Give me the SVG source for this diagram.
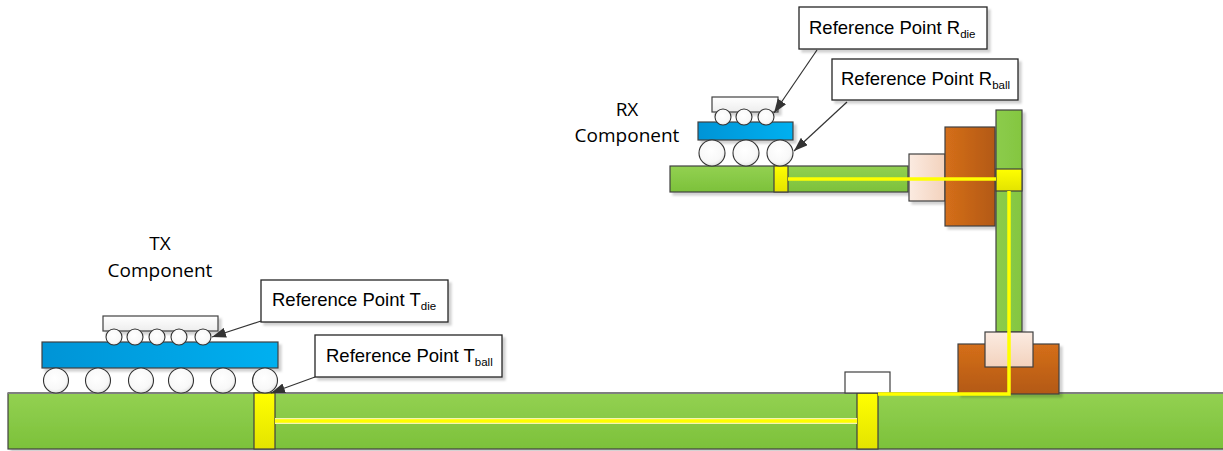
<svg xmlns="http://www.w3.org/2000/svg" width="1223" height="451" viewBox="0 0 1223 451">
  <defs>
    <linearGradient id="gGreen" x1="0" y1="0" x2="0" y2="1">
      <stop offset="0" stop-color="#93d152"/>
      <stop offset="1" stop-color="#7cc13a"/>
    </linearGradient>
    <linearGradient id="gGreenV" x1="0" y1="0" x2="1" y2="0">
      <stop offset="0" stop-color="#8ccc4c"/>
      <stop offset="1" stop-color="#84c640"/>
    </linearGradient>
    <linearGradient id="gBlue" x1="0" y1="0" x2="1" y2="0">
      <stop offset="0" stop-color="#0094d6"/>
      <stop offset="1" stop-color="#00b0f0"/>
    </linearGradient>
    <linearGradient id="gYellow" x1="0" y1="0" x2="0" y2="1">
      <stop offset="0" stop-color="#ffff00"/>
      <stop offset="1" stop-color="#e3e300"/>
    </linearGradient>
    <linearGradient id="gOrangeH" x1="0" y1="0" x2="1" y2="0">
      <stop offset="0" stop-color="#d56f1a"/>
      <stop offset="1" stop-color="#b35916"/>
    </linearGradient>
    <linearGradient id="gOrangeV" x1="0" y1="0" x2="0" y2="1">
      <stop offset="0" stop-color="#d56f1a"/>
      <stop offset="1" stop-color="#b35916"/>
    </linearGradient>
    <linearGradient id="gPinkH" x1="0" y1="0" x2="1" y2="0">
      <stop offset="0" stop-color="#fbebe1"/>
      <stop offset="1" stop-color="#f3d2bd"/>
    </linearGradient>
    <linearGradient id="gPinkV" x1="0" y1="0" x2="0" y2="1">
      <stop offset="0" stop-color="#fbebe1"/>
      <stop offset="1" stop-color="#f3d2bd"/>
    </linearGradient>
    <linearGradient id="gDie" x1="0" y1="0" x2="0" y2="1">
      <stop offset="0" stop-color="#ffffff"/>
      <stop offset="1" stop-color="#ededed"/>
    </linearGradient>
    <radialGradient id="gBall" cx="0.45" cy="0.4" r="0.65">
      <stop offset="0" stop-color="#ffffff"/>
      <stop offset="0.7" stop-color="#f8f8f8"/>
      <stop offset="1" stop-color="#dedede"/>
    </radialGradient>
    <filter id="shadow" x="-10%" y="-10%" width="130%" height="140%">
      <feDropShadow dx="3" dy="3" stdDeviation="1.2" flood-color="#000" flood-opacity="0.18"/>
    </filter>
    <marker id="arrow" viewBox="0 0 14 10" refX="14" refY="5" markerWidth="14" markerHeight="10" markerUnits="userSpaceOnUse" orient="auto">
      <path d="M0,0 L14,5 L0,10 Z" fill="#333333"/>
    </marker>
  </defs>
  <style>
    .edge { stroke: #404040; stroke-width: 1.2; }
    .board { fill: url(#gGreen); }
    .vboard { fill: url(#gGreenV); }
    .via { fill: url(#gYellow); }
    .subst { fill: url(#gBlue); }
    .die { fill: url(#gDie); }
    .ball { fill: url(#gBall); stroke: #333333; stroke-width: 1.1; }
    .trace { fill: none; stroke: #ffff00; stroke-width: 3.5; }
    .callout rect { fill: #ffffff; stroke: #262626; stroke-width: 1.3; }
    .callout text { font-family: "Liberation Sans", Arial, sans-serif; font-size: 18.5px; fill: #000; }
    .sub { font-size: 11.5px; }
    .label { font-family: "Open Sans", "Liberation Sans", sans-serif; font-size: 19px; fill: #000; text-anchor: middle; }
    .lead { fill: none; stroke: #333333; stroke-width: 1.2; marker-end: url(#arrow); }
  </style>

  <!-- main PCB with its two vias -->
  <g id="main-board">
    <rect x="8" y="393" width="1216" height="56" class="board edge" filter="url(#shadow)"/>
    <line x1="8" y1="393" x2="1223" y2="393" stroke="#7f7f7f" stroke-width="2"/>
    <rect x="254" y="393" width="21" height="56" class="via edge"/>
    <rect x="857" y="393" width="21" height="56" class="via edge"/>
  </g>

  <!-- small white part sitting on the board -->
  <g id="smd-part">
    <rect x="845" y="372" width="45" height="21" fill="#ffffff" class="edge"/>
  </g>

  <!-- TX package -->
  <g id="tx-component">
    <rect x="103" y="316" width="115" height="15" class="die edge" filter="url(#shadow)"/>
    <rect x="42" y="342" width="236" height="26" class="subst edge" filter="url(#shadow)"/>
    <circle cx="56" cy="380.5" r="12.5" class="ball"/>
    <circle cx="98" cy="380.5" r="12.5" class="ball"/>
    <circle cx="141" cy="380.5" r="12.5" class="ball"/>
    <circle cx="181" cy="380.5" r="12.5" class="ball"/>
    <circle cx="223" cy="380.5" r="12.5" class="ball"/>
    <circle cx="265" cy="380.5" r="12.5" class="ball"/>
    <circle cx="114" cy="337" r="8" class="ball"/>
    <circle cx="135" cy="337" r="8" class="ball"/>
    <circle cx="157" cy="337" r="8" class="ball"/>
    <circle cx="179" cy="337" r="8" class="ball"/>
    <circle cx="203" cy="337" r="8" class="ball"/>
    <text class="label" x="160" y="250">TX</text>
    <text class="label" x="160" y="277">Component</text>
  </g>

  <!-- RX board with via -->
  <g id="rx-board">
    <rect x="670" y="166" width="238" height="26" class="board edge" filter="url(#shadow)"/>
    <rect x="774" y="166" width="14" height="26" class="via edge"/>
  </g>

  <!-- RX package -->
  <g id="rx-component">
    <rect x="712" y="97" width="66" height="15" class="die edge" filter="url(#shadow)"/>
    <rect x="698" y="122" width="95" height="18" class="subst edge" filter="url(#shadow)"/>
    <circle cx="712" cy="153" r="13" class="ball"/>
    <circle cx="746" cy="153" r="13" class="ball"/>
    <circle cx="780" cy="153" r="13" class="ball"/>
    <circle cx="723" cy="117" r="8" class="ball"/>
    <circle cx="744" cy="117" r="8" class="ball"/>
    <circle cx="766" cy="117" r="8" class="ball"/>
    <text class="label" x="627" y="116">RX</text>
    <text class="label" x="627" y="142">Component</text>
  </g>

  <!-- upper connector between RX board and vertical card -->
  <g id="upper-connector">
    <rect x="909" y="154" width="36" height="47" fill="url(#gPinkH)" class="edge" filter="url(#shadow)"/>
    <rect x="945" y="127" width="50" height="99" fill="url(#gOrangeH)" class="edge" filter="url(#shadow)"/>
  </g>

  <!-- vertical card with via -->
  <g id="vertical-board">
    <rect x="996" y="110" width="26" height="222" class="vboard edge" filter="url(#shadow)"/>
    <rect x="996" y="169" width="26" height="22" class="via edge"/>
  </g>

  <!-- lower connector on the main board -->
  <g id="lower-connector">
    <rect x="958" y="344" width="101" height="50" fill="url(#gOrangeV)" class="edge" filter="url(#shadow)"/>
    <rect x="985" y="332" width="48" height="35" fill="url(#gPinkV)" class="edge"/>
  </g>

  <!-- signal traces and callout leaders -->
  <g id="connectors">
    <line x1="275" y1="421" x2="857" y2="421" stroke="#f4f4b0" stroke-width="6"/>
    <line x1="275" y1="421" x2="857" y2="421" class="trace"/>
    <line x1="788" y1="179" x2="996" y2="179" class="trace"/>
    <polyline points="1009,191 1009,394 878,394" class="trace"/>
    <line x1="261" y1="321" x2="212" y2="337" class="lead"/>
    <line x1="315" y1="377" x2="271" y2="393" class="lead"/>
    <line x1="817" y1="50" x2="774" y2="113" class="lead"/>
    <line x1="847" y1="102" x2="794" y2="151" class="lead"/>
  </g>

  <!-- callouts -->
  <g id="callout-tdie" class="callout">
    <rect x="261" y="280" width="187" height="42" filter="url(#shadow)"/>
    <text x="272" y="306">Reference Point T<tspan class="sub" dy="4">die</tspan></text>
  </g>
  <g id="callout-tball" class="callout">
    <rect x="315" y="335" width="187" height="42" filter="url(#shadow)"/>
    <text x="326" y="362">Reference Point T<tspan class="sub" dy="4">ball</tspan></text>
  </g>
  <g id="callout-rdie" class="callout">
    <rect x="799" y="7" width="188" height="42" filter="url(#shadow)"/>
    <text x="809" y="34">Reference Point R<tspan class="sub" dy="4">die</tspan></text>
  </g>
  <g id="callout-rball" class="callout">
    <rect x="832" y="59" width="186" height="41" filter="url(#shadow)"/>
    <text x="841" y="85">Reference Point R<tspan class="sub" dy="4">ball</tspan></text>
  </g>
</svg>
